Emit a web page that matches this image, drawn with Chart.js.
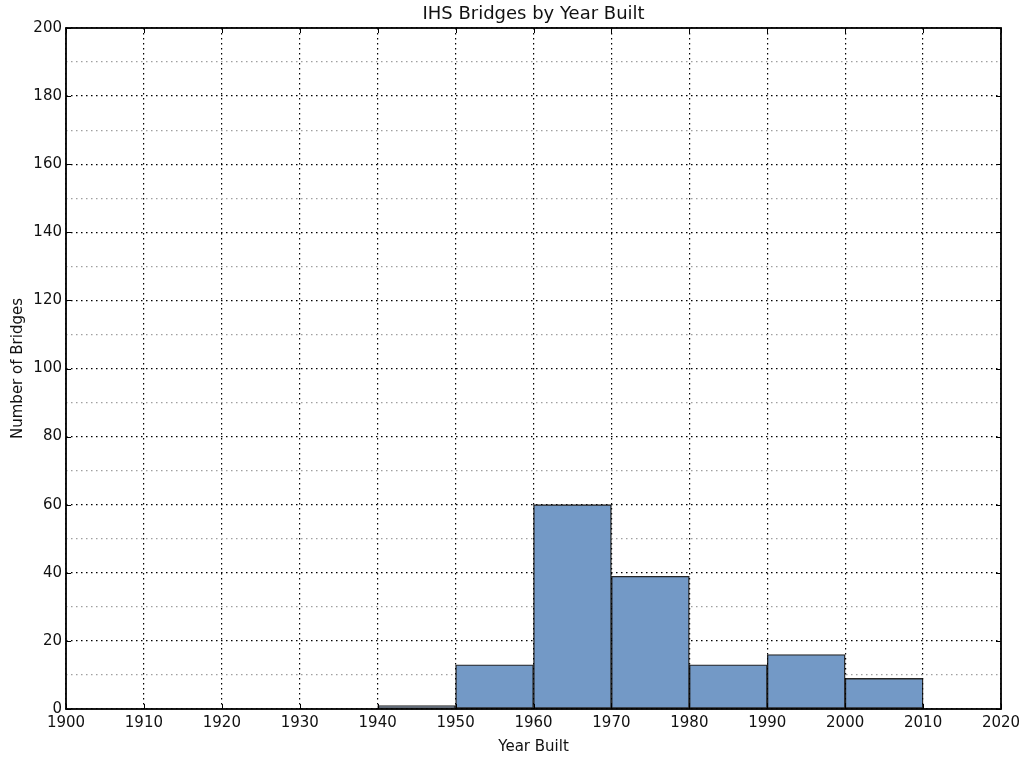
<!DOCTYPE html>
<html>
<head>
<meta charset="utf-8">
<script src="https://cdn.jsdelivr.net/npm/chart.js@4/dist/chart.umd.min.js"></script>
<style>
  html, body { margin: 0; padding: 0; background: #fff; }
  #wrap { width: 1026px; height: 757px; }
</style>
</head>
<body>
<div id="wrap"><canvas id="c" width="1026" height="757"></canvas></div>
<script>
// Histogram of bridges by decade built
const binStarts = [1900, 1910, 1920, 1930, 1940, 1950, 1960, 1970, 1980, 1990, 2000];
const counts    = [0, 0, 0, 0, 1, 13, 60, 39, 13, 16, 9];
const binWidth = 10;
const xTicks = [1900, 1910, 1920, 1930, 1940, 1950, 1960, 1970, 1980, 1990, 2000, 2010, 2020];
const yMajor = [0, 20, 40, 60, 80, 100, 120, 140, 160, 180, 200];

const FONT = 'DejaVu Sans';
const DOTS = [1.5, 3.5];

// Frame around the plot plus short inward tick marks, like a boxed axes
const framePlugin = {
  id: 'frame',
  afterDraw(chart) {
    const { ctx, chartArea: a, scales } = chart;
    ctx.save();
    ctx.strokeStyle = '#000';
    ctx.lineWidth = 1;
    const tl = 5;
    ctx.beginPath();
    yMajor.forEach(v => {
      const y = Math.round(scales.y.getPixelForValue(v)) + 0.5;
      ctx.moveTo(a.left, y); ctx.lineTo(a.left + tl, y);
      ctx.moveTo(a.right, y); ctx.lineTo(a.right - tl, y);
    });
    xTicks.forEach(v => {
      const x = Math.round(scales.x.getPixelForValue(v)) + 0.5;
      ctx.moveTo(x, a.bottom); ctx.lineTo(x, a.bottom - tl);
      ctx.moveTo(x, a.top); ctx.lineTo(x, a.top + tl);
    });
    ctx.stroke();
    ctx.lineWidth = 1.8;
    ctx.strokeRect(a.left, a.top, a.right - a.left, a.bottom - a.top);
    ctx.restore();
  }
};

new Chart(document.getElementById('c'), {
  type: 'bar',
  data: {
    datasets: [{
      data: binStarts.map((s, i) => ({ x: s + binWidth / 2, y: counts[i] })),
      backgroundColor: '#7399c6',
      borderColor: 'rgba(0,0,0,0.85)',
      borderWidth: 1.4,
      borderSkipped: false,
      barPercentage: 1.0,
      categoryPercentage: 1.0
    }]
  },
  options: {
    responsive: false,
    animation: false,
    layout: { padding: { left: 0, right: 25, top: 0, bottom: 0 } },
    plugins: {
      legend: { display: false },
      tooltip: { enabled: false },
      title: {
        display: true,
        text: 'IHS Bridges by Year Built',
        fullSize: false,
        color: '#111',
        font: { family: FONT, size: 18, weight: 'normal' },
        padding: { top: 4, bottom: 2.4 }
      }
    },
    scales: {
      x: {
        type: 'linear',
        min: 1900,
        max: 2020,
        z: 1,
        offset: false,
        afterBuildTicks(scale) { scale.ticks = xTicks.map(v => ({ value: v })); },
        ticks: {
          color: '#111',
          font: { family: FONT, size: 15 },
          padding: 5,
          maxRotation: 0,
          callback: v => String(v)
        },
        grid: {
          offset: false,
          color: '#000',
          lineWidth: 1.2,
          drawTicks: false
        },
        border: { display: false, dash: DOTS },
        title: {
          display: true,
          text: 'Year Built',
          color: '#111',
          font: { family: FONT, size: 15 },
          padding: { top: 4, bottom: 1 }
        },
        afterFit(scale) { scale.height = 48; }
      },
      y: {
        type: 'linear',
        min: 0,
        max: 200,
        z: 1,
        ticks: {
          stepSize: 10,
          color: '#111',
          font: { family: FONT, size: 15 },
          padding: 4,
          callback: v => (v % 20 === 0 ? String(v) : '')
        },
        grid: {
          color: ctx => (ctx.tick && ctx.tick.value % 20 === 0 ? '#000' : '#a0a0a0'),
          lineWidth: 1.2,
          drawTicks: false
        },
        border: { display: false, dash: DOTS },
        title: {
          display: true,
          text: 'Number of Bridges',
          color: '#111',
          font: { family: FONT, size: 15 },
          padding: { top: 9, bottom: 4 }
        },
        afterFit(scale) { scale.width = 66; }
      }
    }
  },
  plugins: [framePlugin]
});
</script>
</body>
</html>
